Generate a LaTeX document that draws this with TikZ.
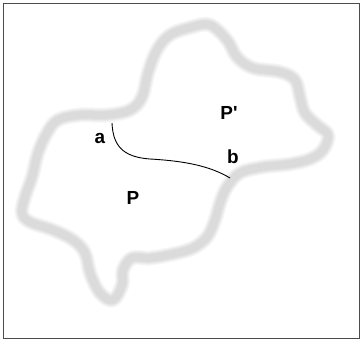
\documentclass[tikz,border=0pt]{standalone}
\usepackage{fontspec}
\setmainfont{Liberation Sans}
\begin{document}
\begin{tikzpicture}[x=1bp, y=-1bp,
  lbl/.style={font=\fontsize{19}{19}\selectfont\bfseries, inner sep=0pt},
  cut/.style={draw=black, line width=0.9bp},
  frame/.style={draw=black!70, line width=1bp}]
\useasboundingbox (0,0) rectangle (361,340);
\fill[white] (0,0) rectangle (361,340);
\draw[frame] (3.5,3.5) rectangle (359.5,338.5);

% soft grey outline of the region, built from layered strokes
\def\regionpath{plot[smooth cycle, tension=0.6] coordinates {
  (210,25) (227,40) (237,57) (253,68) (280,72) (295,80) (300,97)
  (305,113) (317,125) (328,135) (323,150) (310,159) (290,164)
  (263,167) (240,173) (227,187) (220,203) (215,220) (207,237)
  (193,248) (173,254) (150,258) (132,258) (123,270) (122,285)
  (113,300) (100,293) (90,273) (85,253) (73,240) (53,230) (30,222)
  (22,213) (25,197) (32,177) (38,153) (47,133) (58,120) (80,115)
  (107,115) (130,110) (142,97) (148,73) (157,50) (170,35) (192,27)}}
\foreach \w/\c in {15/3, 13/6, 11/9, 9/12, 7/14}
  \draw[black!\c, line width=\w bp, line join=round] \regionpath;

% the cut from a to b
\coordinate (pa) at (112,123);
\coordinate (pm) at (150,159);
\coordinate (pb) at (230,178);
\draw[cut] (pa) .. controls (113,145) and (122,157) .. (pm)
           .. controls (185,161) and (210,166) .. (pb);

\node[lbl] (la) at (100,138) {a};
\node[lbl] (lb) at (233,157) {b};
\node[lbl] (lpp) at (229,113) {P\textquotesingle};
\node[lbl] (lp) at (133,198) {P};
\end{tikzpicture}
\end{document}
